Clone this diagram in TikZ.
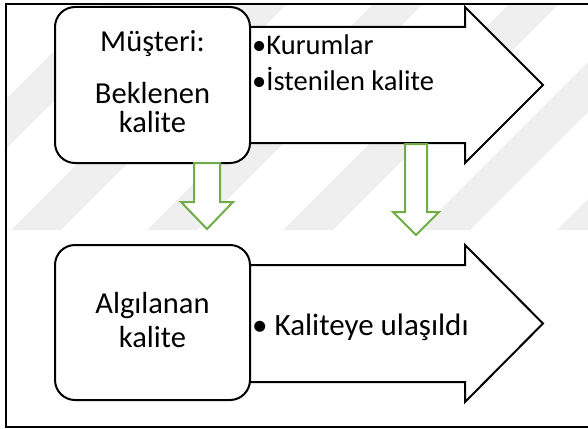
\documentclass[tikz,border=0pt]{standalone}
\usepackage{fontspec}
\setmainfont{Carlito}
\definecolor{arrgreen}{HTML}{70AD47}
\definecolor{wm}{HTML}{EFEFEF}
\tikzset{
  blk/.style={draw=black, line width=2pt, fill=white, line join=miter},
  rbox/.style={draw=black, line width=2pt, fill=white, rounded corners=20pt},
  garrow/.style={draw=arrgreen, line width=2pt, fill=white, line join=miter},
  boxtxt/.style={font=\fontsize{30.5}{34}\selectfont, anchor=base},
  bultxt/.style={font=\fontsize{28.5}{34}\selectfont, anchor=base west, inner sep=0pt},
  bultxtb/.style={font=\fontsize{31}{34}\selectfont, anchor=base west, inner sep=0pt},
  stripe/.style={fill=wm, draw=none}
}
\begin{document}
\begin{tikzpicture}[x=1pt,y=-1pt]
\useasboundingbox (0,0) rectangle (588,428);
\fill[white] (0,0) rectangle (588,428);
% watermark stripes
\begin{scope}
\clip (6,4) rectangle (588,230);
\foreach \b in {-125,11,147,283,420,557}{
  \fill[stripe] (\b,230) -- (\b+50,230) -- (\b+276,4) -- (\b+226,4) -- cycle;
}
\end{scope}
% frame
\draw[line width=2pt] (600,4) -- (6,4) -- (6,427) -- (600,427);
% top arrow
\draw[blk] (240,27) -- (465,27) -- (465,7) -- (543,85) -- (465,163) -- (465,143) -- (240,143) -- cycle;
% bottom arrow
\draw[blk] (240,265) -- (465,265) -- (465,245) -- (543,323.5) -- (465,402) -- (465,382) -- (240,382) -- cycle;
% rounded boxes
\draw[rbox] (55,7) rectangle (250,163);
\draw[rbox] (55,245) rectangle (250,400);
% green arrows
\draw[garrow] (194,163) -- (220,163) -- (220,202) -- (233,202) -- (207,229) -- (181,202) -- (194,202) -- cycle;
\draw[garrow] (405,144) -- (427,144) -- (427,212) -- (439,212) -- (416,235) -- (393,212) -- (405,212) -- cycle;
% texts
\node[boxtxt] (m1) at (152.5,52) {Müşteri:};
\node[boxtxt] (m2) at (152.5,103) {Beklenen};
\node[boxtxt] (m3) at (152.5,132) {kalite};
\node[boxtxt] (a1) at (152.5,313) {Algılanan};
\node[boxtxt] (a2) at (152.5,347) {kalite};
\node[bultxt] (b1) at (252,54) {•Kurumlar};
\node[bultxt] (b2) at (252,90) {•İstenilen kalite};
\node[bultxtb] (b3) at (252,335) {• Kaliteye ulaşıldı};
\end{tikzpicture}
\end{document}
